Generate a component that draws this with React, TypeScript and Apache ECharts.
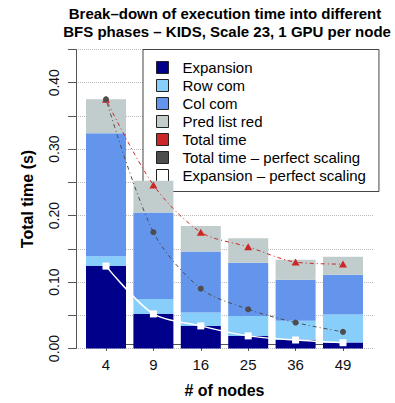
import React, { useEffect, useRef } from "react";
import * as echarts from "echarts";

const nodes = ["4", "9", "16", "25", "36", "49"];
const expansion = [0.124, 0.052, 0.034, 0.019, 0.013, 0.009];
const rowCom = [0.015, 0.0225, 0.02, 0.03, 0.0286, 0.042];
const colCom = [0.185, 0.13, 0.092, 0.08, 0.062, 0.06];
const predListRed = [0.051, 0.048, 0.0385, 0.037, 0.03, 0.027];
const totalTime = [0.375, 0.246, 0.175, 0.153, 0.13, 0.127];
const totalPerfect = [0.375, 0.175, 0.09, 0.059, 0.039, 0.025];
const expansionPerfect = [0.124, 0.052, 0.034, 0.019, 0.0128, 0.0087];

const yTicks = { min: 0, max: 0.45, interval: 0.05 };

const FONT = '"Liberation Sans", Arial, Helvetica, sans-serif';

export default function App() {
  const ref = useRef<HTMLDivElement>(null);
  useEffect(() => {
    if (!ref.current) return;
    const chart = echarts.init(ref.current, undefined, { renderer: "svg" });
    const barBase = {
      type: "bar",
      stack: "total",
      xAxisIndex: 1,
      yAxisIndex: 1,
      barWidth: 40,
      z: 2,
    };
    const dotDash = [1, 3, 4, 3];
    chart.setOption({
      animation: false,
      textStyle: { fontFamily: FONT },
      graphic: [
        {
          type: "text",
          x: 225,
          y: 4,
          style: {
            text: "Break\u2013down of execution time into different\n BFS phases \u2013 KIDS, Scale 23, 1 GPU per node",
            fontSize: 15,
            fontWeight: "bold",
            fontFamily: FONT,
            lineHeight: 18.5,
            align: "center",
            verticalAlign: "top",
            fill: "#000",
          },
        },
      ],
      grid: [
        { left: 76, right: 21, top: 49.5, bottom: 54.5 },
        { left: 82.3, right: 28.3, top: 49.5, bottom: 54.5 },
        { left: 106, right: 52, top: 49.5, bottom: 54.5 },
      ],
      legend: {
        orient: "vertical",
        left: 143,
        top: 49.5,
        z: 1,
        backgroundColor: "#fff",
        borderColor: "#444",
        borderWidth: 1,
        borderRadius: 0,
        padding: [9, 13, 7, 13],
        itemWidth: 12,
        itemHeight: 12,
        itemGap: 0,
        icon: "rect",
        selectedMode: false,
        itemStyle: { borderColor: "#222", borderWidth: 1 },
        textStyle: {
          fontSize: 15,
          lineHeight: 18,
          color: "#000",
          fontFamily: FONT,
          padding: [0, 0, 0, 9],
        },
        data: [
          "Expansion",
          "Row com",
          "Col com",
          "Pred list red",
          "Total time",
          "Total time \u2013 perfect scaling",
          "Expansion \u2013 perfect scaling",
        ],
      },
      xAxis: [
        { gridIndex: 0, type: "value", show: false, min: 0, max: 1 },
        { gridIndex: 1, type: "category", data: nodes, show: false, boundaryGap: true },
        {
          gridIndex: 2,
          type: "value",
          min: 0,
          max: nodes.length - 1,
          interval: 1,
          axisLine: { show: true, lineStyle: { color: "#555", width: 1 } },
          axisTick: { show: true, length: 7, lineStyle: { color: "#555" } },
          axisLabel: {
            fontSize: 15,
            margin: 13,
            color: "#111",
            formatter: (v: number) => nodes[Math.round(v)] ?? "",
          },
          splitLine: { show: false },
          name: "# of nodes",
          nameLocation: "middle",
          nameGap: 38,
          nameTextStyle: { fontSize: 16, fontWeight: "bold", color: "#000" },
        },
      ],
      yAxis: [
        {
          gridIndex: 0,
          type: "value",
          min: yTicks.min,
          max: yTicks.max,
          interval: yTicks.interval,
          axisLine: { show: true, lineStyle: { color: "#555", width: 1 } },
          axisTick: { show: true, length: 8, lineStyle: { color: "#555" } },
          axisLabel: {
            rotate: 90,
            margin: 15,
            fontSize: 14,
            color: "#111",
            formatter: (v: number) => {
              const k = Math.round(v * 20);
              return k % 2 === 0 && k <= 8 ? v.toFixed(2) : "";
            },
          },
          splitLine: {
            show: true,
            lineStyle: { type: "dotted", color: "#bbb", width: 1 },
          },
          name: "Total time (s)",
          nameLocation: "middle",
          nameGap: 41,
          nameTextStyle: { fontSize: 16, fontWeight: "bold", color: "#000" },
        },
        {
          gridIndex: 1,
          type: "value",
          show: false,
          min: yTicks.min,
          max: yTicks.max,
          interval: yTicks.interval,
        },
        {
          gridIndex: 2,
          type: "value",
          show: false,
          min: yTicks.min,
          max: yTicks.max,
          interval: yTicks.interval,
        },
      ],
      series: [
        { ...barBase, name: "Expansion", data: expansion, itemStyle: { color: "#00008B" } },
        { ...barBase, name: "Row com", data: rowCom, itemStyle: { color: "#87CEFA" } },
        { ...barBase, name: "Col com", data: colCom, itemStyle: { color: "#6495ED" } },
        { ...barBase, name: "Pred list red", data: predListRed, itemStyle: { color: "#C1CDCD" } },
        {
          type: "line",
          name: "Total time",
          xAxisIndex: 1,
          yAxisIndex: 1,
          z: 5,
          smooth: 0.3,
          data: totalTime,
          symbol: "triangle",
          symbolSize: [8, 7],
          itemStyle: { color: "#CD2626" },
          lineStyle: { color: "#CD2626", width: 1, type: dotDash },
        },
        {
          type: "line",
          name: "Total time \u2013 perfect scaling",
          xAxisIndex: 1,
          yAxisIndex: 1,
          z: 5,
          smooth: 0.3,
          data: totalPerfect,
          symbol: "circle",
          symbolSize: 6,
          itemStyle: { color: "#4D4D4D" },
          lineStyle: { color: "#4D4D4D", width: 1, type: dotDash },
        },
        {
          type: "line",
          name: "Expansion \u2013 perfect scaling",
          xAxisIndex: 1,
          yAxisIndex: 1,
          z: 5,
          smooth: 0.3,
          data: expansionPerfect,
          symbol: "rect",
          symbolSize: 7,
          itemStyle: { color: "#FFFFFF" },
          lineStyle: { color: "#FFFFFF", width: 1.5, type: "solid" },
        },
      ],
    });
    return () => chart.dispose();
  }, []);
  return (
    <div
      ref={ref}
      style={{ position: "fixed", left: 0, top: 0, width: 395, height: 403, background: "#fff" }}
    />
  );
}
